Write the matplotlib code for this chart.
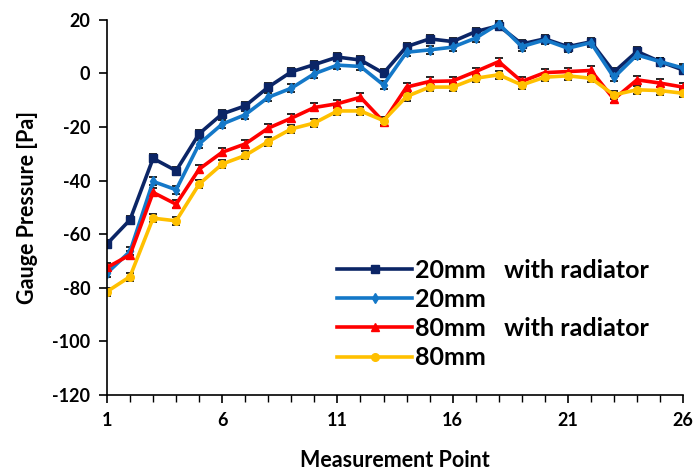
import matplotlib.pyplot as plt
import numpy as np
from matplotlib.ticker import MultipleLocator

plt.rcParams['font.family'] = ['Lato', 'DejaVu Sans']
plt.rcParams['font.weight'] = 'bold'
plt.rcParams['axes.unicode_minus'] = False

points = np.arange(1, 27)
#gauge pressure readings [Pa]
p20_rad = [-63.6, -54.6, -31.7, -36.3, -22.5, -15.1, -12.1, -5.1, 0.6, 3.3, 6.1, 5.0, 0.1,
           10.0, 12.9, 11.9, 15.6, 17.8, 11.0, 12.9, 10.0, 11.8, 0.5, 8.2, 4.4, 1.3]
p20 = [-74.5, -66.4, -40.3, -43.4, -26.3, -18.9, -15.4, -8.9, -5.5, -0.1, 3.1, 2.6, -4.3,
       7.9, 8.8, 9.8, 13.2, 18.5, 10.0, 12.5, 9.4, 11.5, -1.5, 6.9, 4.4, 2.0]
p80_rad = [-72.4, -67.7, -44.4, -48.8, -35.7, -29.4, -26.3, -20.4, -16.7, -12.7, -11.3, -8.9, -18.0,
           -5.1, -3.0, -2.8, 0.7, 4.4, -3.0, 0.3, 0.7, 1.1, -9.6, -2.4, -3.6, -5.1]
p80 = [-81.4, -75.8, -54.0, -55.0, -41.3, -33.8, -30.6, -25.4, -20.7, -18.5, -14.0, -14.0, -17.6,
       -8.6, -5.1, -5.1, -1.8, -0.5, -4.3, -1.4, -0.9, -1.8, -8.0, -6.1, -6.4, -7.4]
err = 1.5

series = [
    (p20_rad, '20mm   with radiator', '#0B2566', 's'),
    (p20, '20mm', '#1478C8', 'd'),
    (p80_rad, '80mm   with radiator', '#FF0000', '^'),
    (p80, '80mm', '#FFC000', 'o'),
]

fig = plt.figure(figsize=(6.97, 4.72), dpi=100)
ax = fig.add_axes([0.1535, 0.163, 0.8265, 0.795])

for vals, lab, col, mk in series:
    ax.errorbar(points, vals, yerr=err, fmt='none', ecolor='black', elinewidth=0.8,
                capsize=3, capthick=1.2, zorder=1)
    ax.plot(points, vals, color=col, marker=mk, markersize=5.5, linewidth=2.6,
            label=lab, zorder=2)

ax.set_xlim(1, 26)
ax.set_ylim(-120, 20)
ax.set_xticks([1, 6, 11, 16, 21, 26])
ax.xaxis.set_minor_locator(MultipleLocator(1))
ax.yaxis.set_major_locator(MultipleLocator(20))
ax.tick_params(axis='both', which='major', direction='out', length=6, width=1.2,
               labelsize=13, pad=6)
ax.tick_params(axis='x', which='minor', direction='out', length=5, width=1)
ax.spines['top'].set_visible(False)
ax.spines['right'].set_visible(False)
ax.spines['left'].set_linewidth(1.2)
ax.spines['bottom'].set_linewidth(1.2)
ax.set_xlabel('Measurement Point', fontsize=15.5, fontweight='bold', labelpad=15)
ax.set_ylabel('Gauge Pressure [Pa]', fontsize=15.5, fontweight='bold', labelpad=10)

ax.legend(loc='center left', bbox_to_anchor=(0.455, 0.335), bbox_transform=fig.transFigure,
          frameon=False, handlelength=3.0, handletextpad=0.1, labelspacing=0.25,
          borderpad=0.3, prop={'weight': 'bold', 'size': 18})

fig.savefig('out.png', dpi=100)
